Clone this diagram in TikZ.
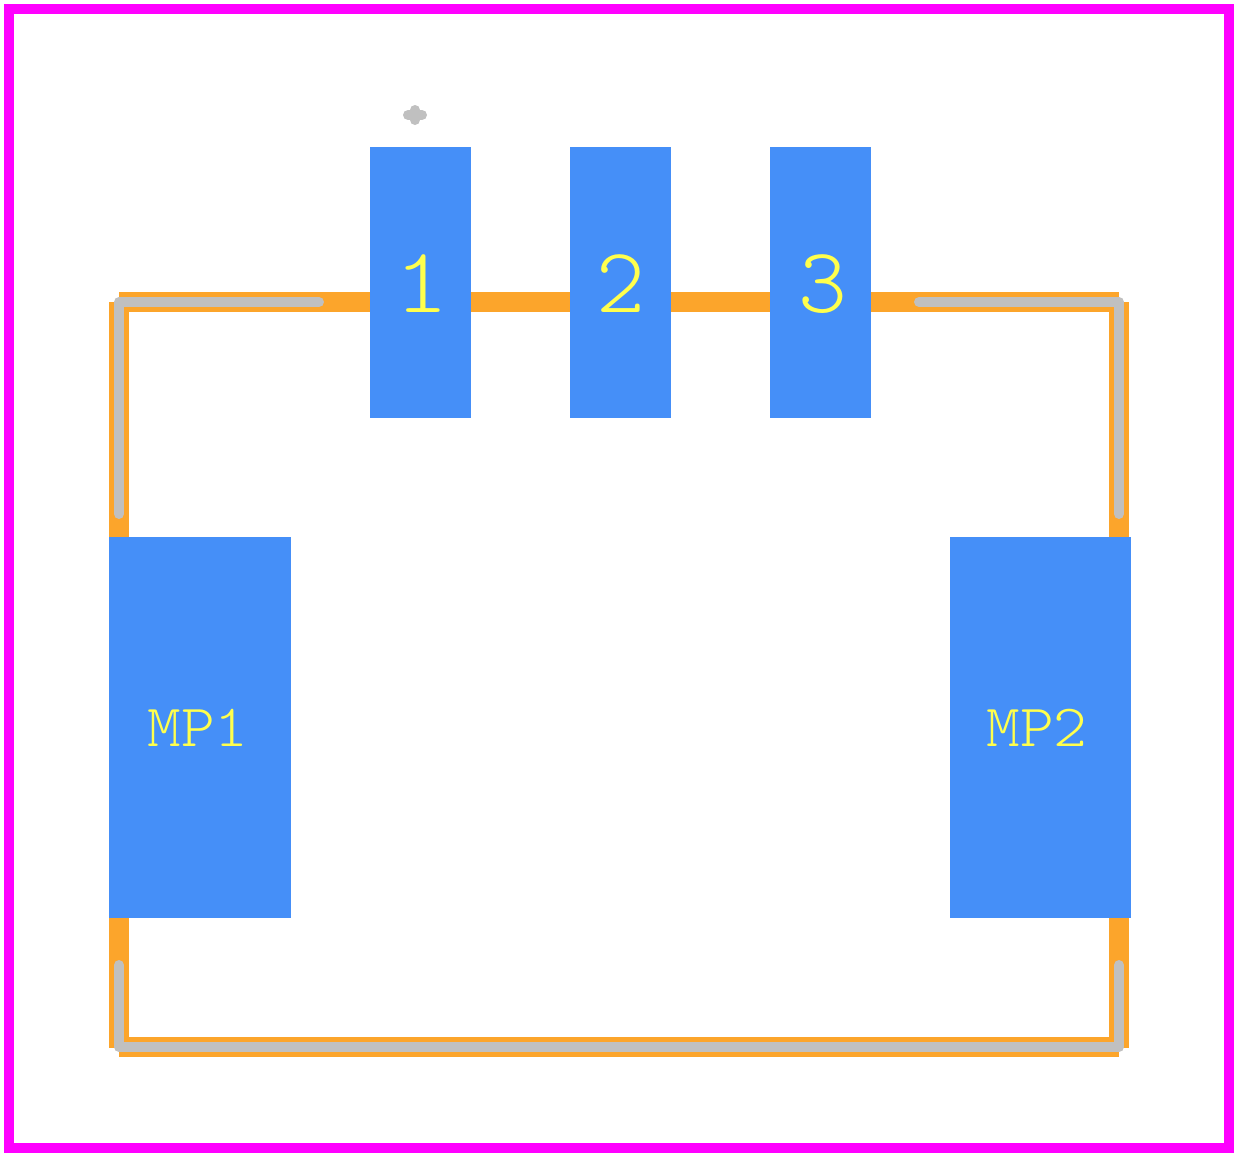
\documentclass[tikz,border=0pt]{standalone}
\usepackage{fontspec}
\usepackage{tikz}
\newfontfamily\padfont{Latin Modern Mono Light}
\definecolor{courtmagenta}{HTML}{FF00FF}
\definecolor{padblue}{HTML}{458FF8}
\definecolor{bodyorange}{HTML}{FCA52B}
\definecolor{silkgray}{HTML}{C0C0C0}
\definecolor{textyellow}{HTML}{FFFF4D}
\tikzset{
  pad/.style={fill=padblue,inner sep=0pt,anchor=north west},
  padnum/.style={text=textyellow,inner sep=0pt,font=\fontsize{93}{93}\selectfont\padfont},
  padmp/.style={text=textyellow,inner sep=0pt,xscale=1.07,font=\fontsize{60}{60}\selectfont\padfont},
  body/.style={draw=bodyorange,line width=20pt},
  silk/.style={draw=silkgray,line width=10pt,line cap=round,line join=round},
}
\begin{document}
\begin{tikzpicture}[x=1pt,y=-1pt]
\useasboundingbox (0,0) rectangle (1239,1157);
% courtyard
\draw[courtmagenta,line width=10pt] (9,9) rectangle (1229,1148);
% body outline
\draw[body] (119,302) -- (1119,302);
\draw[body] (119,1047) -- (1119,1047);
\draw[body] (119,302) -- (119,1048);
\draw[body] (1119,302) -- (1119,1048);
% silkscreen
\draw[silk] (319,302) -- (119,302) -- (119,514);
\draw[silk] (919,302) -- (1119,302) -- (1119,514);
\draw[silk] (119,965) -- (119,1047) -- (1119,1047) -- (1119,965);
% pin one mark
\draw[silkgray,line width=10pt,line cap=round] (408,115) -- (422,115);
\draw[silkgray,line width=10pt,line cap=round] (415,110) -- (415,120);
% pads
\node[pad,minimum width=101pt,minimum height=271pt] (p1) at (370,147) {};
\node[pad,minimum width=101pt,minimum height=271pt] (p2) at (570,147) {};
\node[pad,minimum width=101pt,minimum height=271pt] (p3) at (770,147) {};
\node[pad,minimum width=182pt,minimum height=381pt] (mp1) at (109,537) {};
\node[pad,minimum width=181pt,minimum height=381pt] (mp2) at (950,537) {};
% labels
\node[padnum,xscale=1.12] (l1) at (421.5,284) {1};
\node[padnum] (l2) at (620.5,284) {2};
\node[padnum] (l3) at (822.5,284) {3};
\node[padmp] (lmp1) at (198,728) {MP1};
\node[padmp] (lmp2) at (1037,728) {MP2};
\end{tikzpicture}
\end{document}
